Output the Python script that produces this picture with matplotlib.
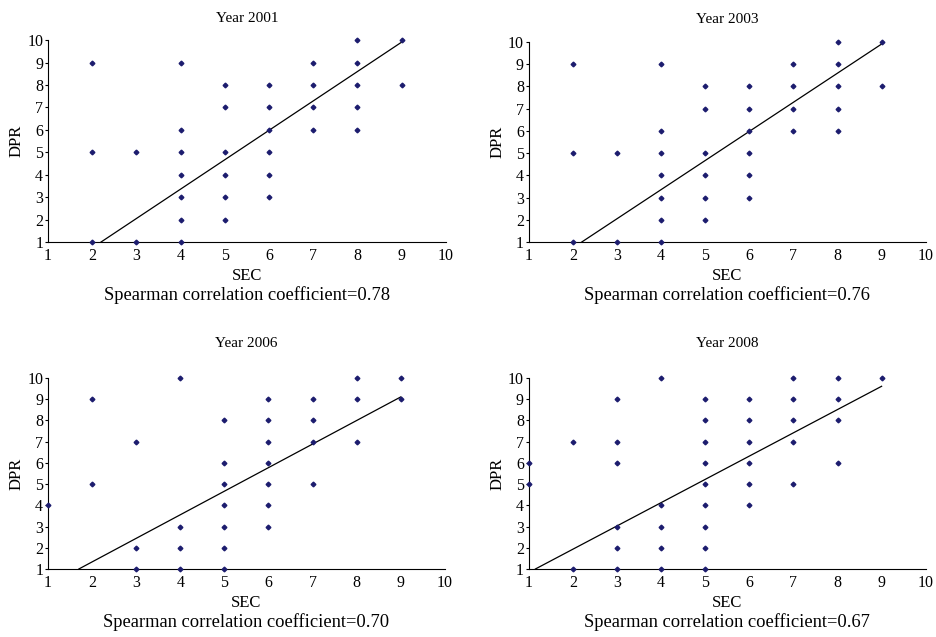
import numpy as np
import matplotlib
matplotlib.use("Agg")
import matplotlib.pyplot as plt

plt.rcParams['font.family'] = ['Liberation Serif', 'DejaVu Serif']

years = ["2001", "2003", "2006", "2008"]
rho = ["0.78", "0.76", "0.70", "0.67"]

# (SEC, DPR) points per year
sec_2001 = [2, 2, 2, 3, 3, 4, 4, 4, 4, 4, 4, 4, 5, 5, 5, 5, 5, 5,
            6, 6, 6, 6, 6, 6, 7, 7, 7, 7, 8, 8, 8, 8, 8, 9, 9]
dpr_2001 = [9, 5, 1, 5, 1, 9, 6, 5, 4, 3, 2, 1, 8, 7, 5, 4, 3, 2,
            8, 7, 6, 5, 4, 3, 9, 8, 7, 6, 10, 9, 8, 7, 6, 10, 8]
sec_2003 = list(sec_2001)
dpr_2003 = list(dpr_2001)
sec_2006 = [1, 2, 2, 3, 3, 3, 4, 4, 4, 4, 5, 5, 5, 5, 5, 5, 5,
            6, 6, 6, 6, 6, 6, 6, 7, 7, 7, 7, 8, 8, 8, 9, 9]
dpr_2006 = [4, 9, 5, 7, 2, 1, 10, 3, 2, 1, 8, 6, 5, 4, 3, 2, 1,
            9, 8, 7, 6, 5, 4, 3, 9, 8, 7, 5, 10, 9, 7, 10, 9]
sec_2008 = [1, 1, 2, 2, 3, 3, 3, 3, 3, 3, 4, 4, 4, 4, 4,
            5, 5, 5, 5, 5, 5, 5, 5, 5, 6, 6, 6, 6, 6, 6,
            7, 7, 7, 7, 7, 8, 8, 8, 8, 9]
dpr_2008 = [6, 5, 7, 1, 9, 7, 6, 3, 2, 1, 10, 4, 3, 2, 1,
            9, 8, 7, 6, 5, 4, 3, 2, 1, 9, 8, 7, 6, 5, 4,
            10, 9, 8, 7, 5, 10, 9, 8, 6, 10]

# linear trend lines (slope, intercept)
slopes = [1.31, 1.31, 1.11, 1.096]
intercepts = [-1.88, -1.88, -0.887, -0.26]

sec_all = [sec_2001, sec_2003, sec_2006, sec_2008]
dpr_all = [dpr_2001, dpr_2003, dpr_2006, dpr_2008]

fig = plt.figure(figsize=(9.36, 6.37), dpi=100)
positions = [[0.0513, 0.620, 0.425, 0.317],
             [0.565, 0.620, 0.424, 0.314],
             [0.0513, 0.1068, 0.424, 0.300],
             [0.565, 0.1068, 0.424, 0.300]]
title_pads = [13, 14, 22, 22]

for i in range(4):
    ax = fig.add_axes(positions[i])
    ax.plot(sec_all[i], dpr_all[i], linestyle='none', marker='D',
            markersize=2.4, color='#1c1c6e', clip_on=False, zorder=3)
    m, b = slopes[i], intercepts[i]
    x0 = (1 - b) / m
    xs = np.array([x0, 9])
    ax.plot(xs, m * xs + b, color='black', linewidth=0.9)
    ax.set_xlim(1, 10)
    ax.set_ylim(1, 10)
    ax.set_xticks(range(1, 11))
    ax.set_yticks(range(1, 11))
    ax.spines['top'].set_visible(False)
    ax.spines['right'].set_visible(False)
    ax.spines['left'].set_linewidth(0.8)
    ax.spines['bottom'].set_linewidth(0.8)
    ax.tick_params(axis='y', labelsize=11.5, length=2.5, width=0.8, pad=1)
    ax.tick_params(axis='x', labelsize=11.5, length=0, pad=4)
    ax.set_title("Year " + years[i], fontsize=11, pad=title_pads[i])
    ax.set_xlabel("SEC", fontsize=12, labelpad=3)
    ax.set_ylabel("DPR", fontsize=12, labelpad=2)
    ax.annotate("Spearman correlation coefficient=" + rho[i],
                xy=(0.5, 0), xycoords='axes fraction',
                xytext=(0, -38), textcoords='offset points',
                ha='center', va='center', fontsize=13.3)

fig.savefig("out.png", dpi=100)
